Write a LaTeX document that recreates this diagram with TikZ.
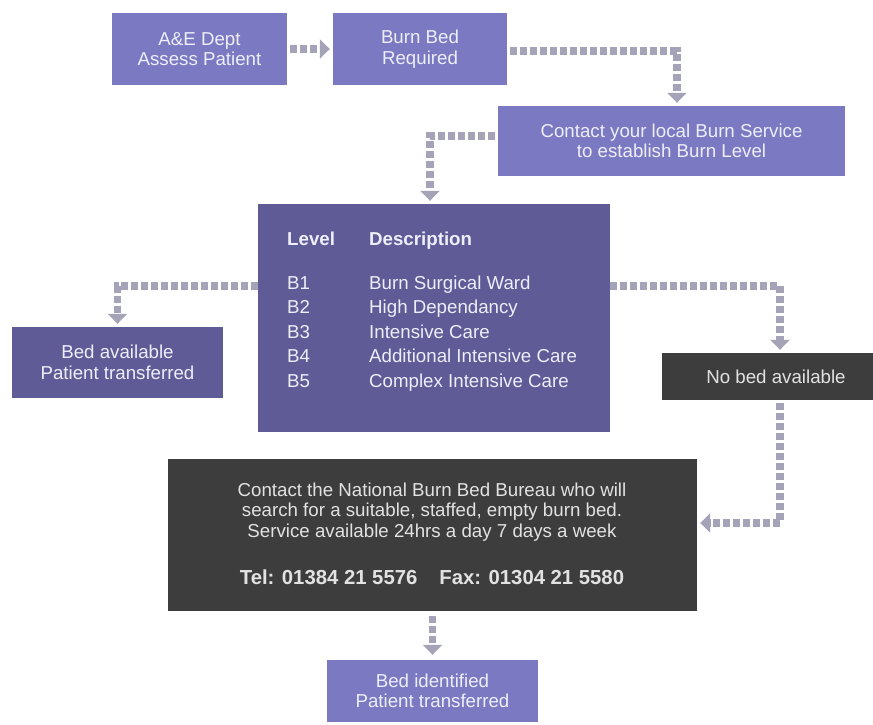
\documentclass[tikz,border=0pt]{standalone}
\usepackage{fontspec}
\setmainfont{Liberation Sans}
\usetikzlibrary{arrows.meta}
\definecolor{lightpurple}{HTML}{7B79C1}
\definecolor{darkpurple}{HTML}{5F5B96}
\definecolor{darkgrey}{HTML}{3D3D3D}
\definecolor{conn}{HTML}{A4A3B8}
\definecolor{ptext}{HTML}{EEEEFA}
\definecolor{gtext}{HTML}{E2E2E2}
\begin{document}
\begin{tikzpicture}[x=1pt,y=-1pt,
  box/.style={rectangle,inner sep=0pt,align=center,font=\fontsize{18.7}{20.5}\selectfont},
  lbox/.style={box,fill=lightpurple,text=ptext},
  dpbox/.style={box,fill=darkpurple,text=ptext},
  dgbox/.style={box,fill=darkgrey,text=gtext},
  cell/.style={anchor=base west,inner sep=0pt,text=ptext,font=\fontsize{18.7}{20.5}\selectfont},
  conline/.style={draw=conn,line width=7.5pt,dash pattern=on 7pt off 3pt,
    -{Triangle[width=19pt,length=10pt]},shorten <=3pt,shorten >=3pt}]
\useasboundingbox (0,0) rectangle (873,725);
\fill[white] (0,0) rectangle (873,725);
\clip (0,0) rectangle (873,725);

\node[lbox,minimum width=175pt,minimum height=72pt] (ae) at (199.5,49) {A\&E Dept\\Assess Patient};
\node[lbox,minimum width=174pt,minimum height=72pt] (burn) at (420,49) {Burn Bed\\Required};
\node[lbox,minimum width=347pt,minimum height=70pt] (local) at (671.5,141) {Contact your local Burn Service\\to establish Burn Level};
\node[dpbox,minimum width=352pt,minimum height=228pt] (level) at (434,318) {};
\node[dpbox,minimum width=211pt,minimum height=71pt] (avail) at (117.5,362.5) {Bed available\\Patient transferred};
\node[dgbox,minimum width=228pt,minimum height=47pt] (nobed) at (776,376.5) {No bed available};
\node[dgbox,minimum width=529pt,minimum height=152pt] (natl) at (432.5,535) {};
\node[lbox,minimum width=211pt,minimum height=62pt] (ident) at (432.5,691) {Bed identified\\Patient transferred};

% table inside level box
\node[cell,font=\fontsize{18.7}{20.5}\selectfont\bfseries] (hl) at (287,245) {Level};
\node[cell,font=\fontsize{18.7}{20.5}\selectfont\bfseries] (hd) at (369,245) {Description};
\node[cell] (l1) at (287,289) {B1};
\node[cell] (d1) at (369,289) {Burn Surgical Ward};
\node[cell] (l2) at (287,313.5) {B2};
\node[cell] (d2) at (369,313.5) {High Dependancy};
\node[cell] (l3) at (287,338) {B3};
\node[cell] (d3) at (369,338) {Intensive Care};
\node[cell] (l4) at (287,362.5) {B4};
\node[cell] (d4) at (369,362.5) {Additional Intensive Care};
\node[cell] (l5) at (287,387) {B5};
\node[cell] (d5) at (369,387) {Complex Intensive Care};

% text inside national box
\node[box,text=gtext] (nt) at (432,512) {Contact the National Burn Bed Bureau who will\\search for a suitable, staffed, empty burn bed.\\Service available 24hrs a day 7 days a week};
\node[box,text=gtext,font=\fontsize{20.3}{22}\selectfont\bfseries] (tel) at (432,577) {Tel: 01384 21 5576\hspace{22pt}Fax: 01304 21 5580};

% connectors
\draw[conline] (ae) -- (burn);
\draw[conline] ([yshift=-2pt]burn.east) -| ([xshift=5.5pt]local.north);
\draw[conline] ([yshift=5pt]local.west) -| ([xshift=-4pt]level.north);
\draw[conline,shorten <=0pt] ([yshift=32pt]level.west) -| (avail.north);
\draw[conline,shorten <=0pt] ([yshift=32pt]level.east) -| ([xshift=4pt]nobed.north);
\draw[conline] ([xshift=4pt]nobed.south) |- ([yshift=12pt]natl.east);
\draw[conline,shorten <=5pt,shorten >=5pt] (natl.south) -- (ident.north);
\end{tikzpicture}
\end{document}
